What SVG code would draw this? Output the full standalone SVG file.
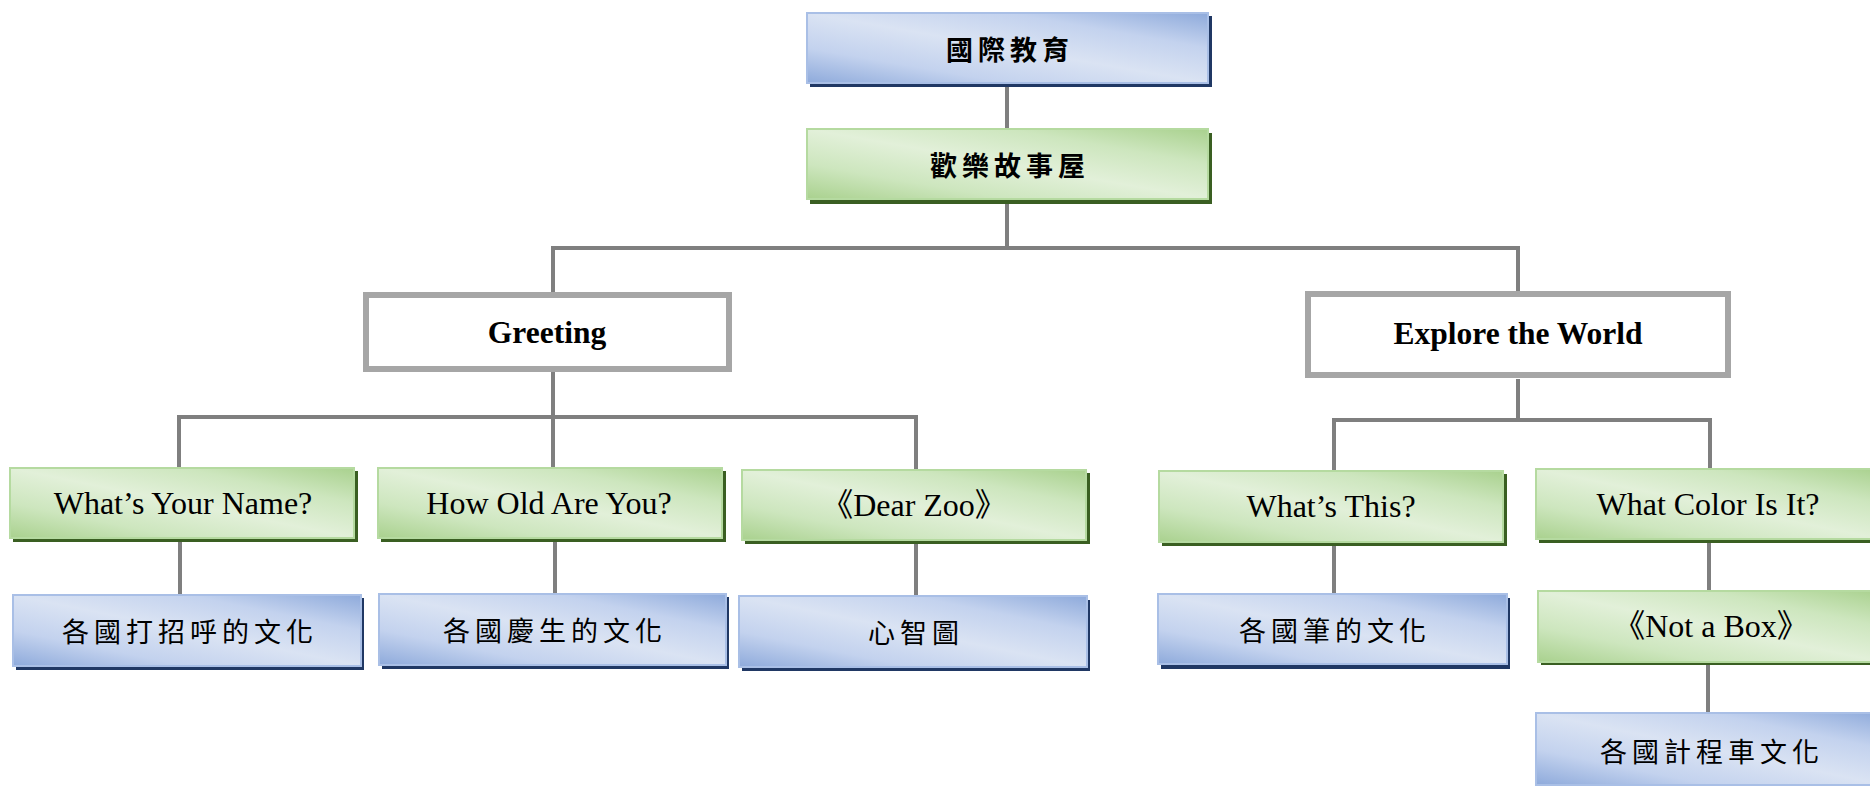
<svg xmlns="http://www.w3.org/2000/svg" width="1870" height="786" viewBox="0 0 1870 786">
  <defs>
    <linearGradient id="gBlue" x1="1" y1="0" x2="0" y2="1">
      <stop offset="0" stop-color="#8EAADB"/>
      <stop offset="0.25" stop-color="#C3D2EE"/>
      <stop offset="0.5" stop-color="#DAE3F3"/>
      <stop offset="0.75" stop-color="#C3D2EE"/>
      <stop offset="1" stop-color="#8EAADB"/>
    </linearGradient>
    <linearGradient id="gGreen" x1="1" y1="0" x2="0" y2="1">
      <stop offset="0" stop-color="#A9D18E"/>
      <stop offset="0.25" stop-color="#CDE6BE"/>
      <stop offset="0.5" stop-color="#E2F0D9"/>
      <stop offset="0.75" stop-color="#CDE6BE"/>
      <stop offset="1" stop-color="#A9D18E"/>
    </linearGradient>
  </defs>
  <style>
    .sb { fill: #203864; }
    .sg { fill: #3A5F22; }
    .bb { fill: url(#gBlue); stroke: #A9BFE6; stroke-width: 2; }
    .bg { fill: url(#gGreen); stroke: #B5DAA0; stroke-width: 2; }
    .bw { fill: #FFFFFF; stroke: #A6A6A6; stroke-width: 6; }
    .cn { fill: none; stroke: #7F7F7F; stroke-width: 4; }
    .cjk { font-family: "Noto Sans CJK TC", "Noto Sans CJK SC", sans-serif; font-size: 27px; fill: #000; text-anchor: middle; dominant-baseline: central; letter-spacing: 5px; }
    .cjkb { font-weight: 700; }
    .lat { font-family: "Liberation Serif", "Noto Sans CJK TC", serif; font-size: 32px; fill: #000; text-anchor: middle; }
    .latb { font-weight: 700; font-size: 31.5px; }
  </style>

  <g id="connectors">
    <path class="cn" d="M1007,83 V129"/>
    <path class="cn" d="M1007,199 V248 M553,248 H1518 M553,246 V292 M1518,246 V292"/>
    <path class="cn" d="M553,372 V417 M179,417 H916 M179,415 V467 M553,415 V467 M916,415 V470"/>
    <path class="cn" d="M1518,379 V420 M1334,420 H1710 M1334,418 V470 M1710,418 V468"/>
    <path class="cn" d="M180,539 V594 M555,539 V593 M916,541 V596 M1334,543 V594 M1709,539 V590 M1708,662 V713"/>
  </g>

  <g id="n-root">
    <rect class="sb" x="810" y="16" width="402" height="71"/>
    <rect class="bb" x="807" y="13" width="401" height="70"/>
    <text class="cjk cjkb" x="1010" y="48">國際教育</text>
  </g>

  <g id="n-story">
    <rect class="sg" x="810" y="133" width="402" height="71"/>
    <rect class="bg" x="807" y="129" width="401" height="70"/>
    <text class="cjk cjkb" x="1010" y="164">歡樂故事屋</text>
  </g>

  <g id="n-greeting">
    <rect class="bw" x="366" y="295" width="363" height="74"/>
    <text class="lat latb" x="547" y="343">Greeting</text>
  </g>

  <g id="n-explore">
    <rect class="bw" x="1308" y="294" width="420" height="81"/>
    <text class="lat latb" x="1518" y="344">Explore the World</text>
  </g>

  <g id="n-name">
    <rect class="sg" x="13" y="471" width="345" height="71"/>
    <rect class="bg" x="10" y="468" width="344" height="70"/>
    <text class="lat" x="183" y="514">What’s Your Name?</text>
  </g>

  <g id="n-age">
    <rect class="sg" x="381" y="471" width="345" height="71"/>
    <rect class="bg" x="378" y="468" width="344" height="70"/>
    <text class="lat" x="549" y="514">How Old Are You?</text>
  </g>

  <g id="n-dearzoo">
    <rect class="sg" x="745" y="473" width="345" height="71"/>
    <rect class="bg" x="742" y="470" width="344" height="70"/>
    <text class="lat" x="914" y="516">《Dear Zoo》</text>
  </g>

  <g id="n-this">
    <rect class="sg" x="1162" y="474" width="345" height="72"/>
    <rect class="bg" x="1159" y="471" width="344" height="71"/>
    <text class="lat" x="1331" y="517">What’s This?</text>
  </g>

  <g id="n-color">
    <rect class="sg" x="1539" y="472" width="345" height="71"/>
    <rect class="bg" x="1536" y="469" width="344" height="70"/>
    <text class="lat" x="1708" y="515">What Color Is It?</text>
  </g>

  <g id="n-greet-culture">
    <rect class="sb" x="16" y="598" width="348" height="72"/>
    <rect class="bb" x="13" y="595" width="348" height="71"/>
    <text class="cjk" x="190" y="630">各國打招呼的文化</text>
  </g>

  <g id="n-bday-culture">
    <rect class="sb" x="382" y="597" width="347" height="72"/>
    <rect class="bb" x="379" y="594" width="347" height="71"/>
    <text class="cjk" x="555" y="629">各國慶生的文化</text>
  </g>

  <g id="n-mindmap">
    <rect class="sb" x="742" y="600" width="348" height="71"/>
    <rect class="bb" x="739" y="596" width="348" height="71"/>
    <text class="cjk" x="916" y="631">心智圖</text>
  </g>

  <g id="n-pen-culture">
    <rect class="sb" x="1161" y="598" width="349" height="71"/>
    <rect class="bb" x="1158" y="594" width="349" height="70"/>
    <text class="cjk" x="1335" y="629">各國筆的文化</text>
  </g>

  <g id="n-notabox">
    <rect class="sg" x="1541" y="594" width="345" height="71"/>
    <rect class="bg" x="1538" y="591" width="344" height="71"/>
    <text class="lat" x="1711" y="637">《Not a Box》</text>
  </g>

  <g id="n-taxi-culture">
    <rect class="sb" x="1539" y="717" width="348" height="72"/>
    <rect class="bb" x="1536" y="713" width="348" height="72"/>
    <text class="cjk" x="1712" y="750">各國計程車文化</text>
  </g>
</svg>
